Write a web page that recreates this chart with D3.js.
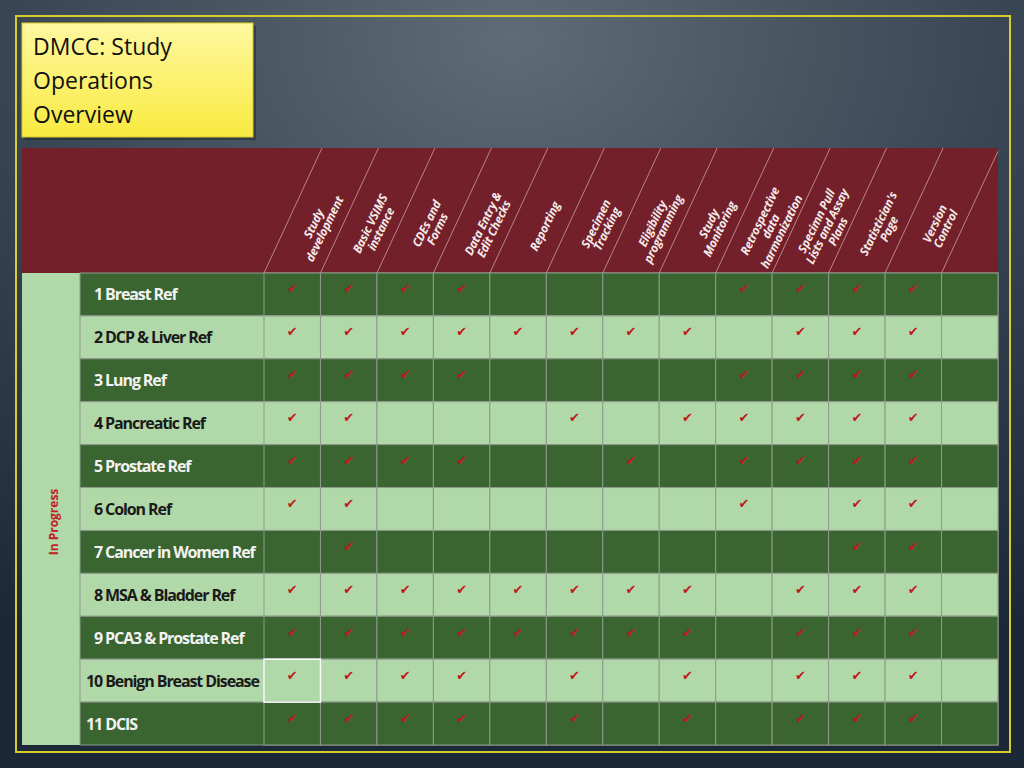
<!DOCTYPE html>
<html><head><meta charset="utf-8">
<script src="https://cdn.jsdelivr.net/npm/d3@7"></script>
<style>body{margin:0;overflow:hidden}</style>
</head><body>
<script>
const title = ["DMCC: Study", "Operations", "Overview"];
const groupLabel = "In Progress";
const tasks = [["Study","development"],["Basic VSIMS","instance"],["CDEs and","Forms"],["Data Entry &","Edit Checks"],["Reporting"],["Specimen","Tracking"],["Eligibility","programming"],["Study","Monitoring"],["Retrospective","data","harmonization"],["Specimn Pull","Lists and Assay","Plans"],["Statistician's","Page"],["Version","Control"],[]];
const studies = ["1 Breast Ref","2 DCP & Liver Ref","3 Lung Ref","4 Pancreatic Ref","5 Prostate Ref","6 Colon Ref","7 Cancer in Women Ref","8 MSA & Bladder Ref","9 PCA3 & Prostate Ref","10 Benign Breast Disease","11 DCIS"];
const done = [
 [1,1,1,1,0,0,0,0,1,1,1,1,0],
 [1,1,1,1,1,1,1,1,0,1,1,1,0],
 [1,1,1,1,0,0,0,0,1,1,1,1,0],
 [1,1,0,0,0,1,0,1,1,1,1,1,0],
 [1,1,1,1,0,0,1,0,1,1,1,1,0],
 [1,1,0,0,0,0,0,0,1,0,1,1,0],
 [0,1,0,0,0,0,0,0,0,0,1,1,0],
 [1,1,1,1,1,1,1,1,0,1,1,1,0],
 [1,1,1,1,1,1,1,1,0,1,1,1,0],
 [1,1,1,1,0,1,0,1,0,1,1,1,0],
 [1,1,1,1,0,1,0,1,0,1,1,1,0]];

const W=1024,H=768;
const svg=d3.select("body").append("svg").attr("width",W).attr("height",H);
const defs=svg.append("defs");
const rg=defs.append("radialGradient").attr("id","bg").attr("cx","0.5").attr("cy","0.05").attr("r","0.9");
rg.append("stop").attr("offset","0").attr("stop-color","#5f6c76");
rg.append("stop").attr("offset","0.6").attr("stop-color","#34414f");
rg.append("stop").attr("offset","1").attr("stop-color","#1a2838");
svg.append("rect").attr("width",W).attr("height",H).attr("fill","url(#bg)");
svg.append("rect").attr("x",16).attr("y",16).attr("width",994).attr("height",736).attr("fill","none").attr("stroke","#d8cc2a").attr("stroke-width",2);

const x=d3.scaleBand().domain(d3.range(tasks.length)).range([264,998]);
const y=d3.scaleBand().domain(d3.range(studies.length)).range([273,745]);
const hTop=148;
svg.append("rect").attr("x",22).attr("y",hTop).attr("width",976).attr("height",273-hTop).attr("fill","#74202a");
const dx=58;
d3.range(tasks.length+1).forEach(i=>{
  const xb=264+i*x.step();
  svg.append("line").attr("x1",xb).attr("y1",273).attr("x2",Math.min(xb+dx,998)).attr("y2",xb+dx>998?273-(998-xb)*(273-hTop)/dx:hTop).attr("stroke","#c9a0a0").attr("stroke-width",0.8);
});
tasks.forEach((t,i)=>{
  const cx=x(i)+x.bandwidth()/2+dx/2-2, cy=hTop+(273-hTop)/2+16;
  const g=svg.append("g").attr("transform",`translate(${cx},${cy}) rotate(-64)`);
  t.forEach((s,k)=>g.append("text").attr("x",0).attr("y",(k-(t.length-1)/2)*12+4).attr("text-anchor","middle")
    .attr("font-family","Open Sans").attr("font-style","italic").attr("font-weight","bold").attr("font-size",12).attr("letter-spacing",-0.3).attr("fill","#f4eaea").text(s));
});
svg.append("rect").attr("x",22).attr("y",273).attr("width",58).attr("height",472).attr("fill","#b0d8a8");
svg.append("text").attr("transform","translate(58,522) rotate(-90)").attr("text-anchor","middle").attr("font-family","Open Sans").attr("font-weight","bold").attr("font-size",12).attr("fill","#c0202a").text(groupLabel);
studies.forEach((s,r)=>{
  const dark=r%2===0;
  const fill=dark?"#3b6530":"#b0d8a8";
  svg.append("rect").attr("x",80).attr("y",y(r)).attr("width",998-80).attr("height",y.bandwidth()).attr("fill",fill).attr("stroke","#8e9a8c").attr("stroke-width",1);
  svg.append("text").attr("x",r>=9?86:94).attr("y",y(r)+y.bandwidth()/2+6).attr("font-family","Open Sans").attr("font-weight","bold").attr("font-size",16)
    .attr("fill",dark?"#f2f2f2":"#1a1a1a").attr("letter-spacing",-1.1).text(s);
  tasks.forEach((t,c)=>{
    svg.append("rect").attr("x",x(c)).attr("y",y(r)).attr("width",x.bandwidth()).attr("height",y.bandwidth()).attr("fill",fill).attr("stroke","#8e9a8c").attr("stroke-width",1);
    if(done[r][c]) svg.append("text").attr("x",x(c)+x.bandwidth()/2).attr("y",y(r)+y.bandwidth()/2-1).attr("text-anchor","middle")
      .attr("font-family","DejaVu Sans").attr("font-size",13).attr("fill","#c01820").text("✔");
  });
});
svg.append("rect").attr("x",x(0)).attr("y",y(9)).attr("width",x.bandwidth()).attr("height",y.bandwidth()).attr("fill","none").attr("stroke","#ffffff").attr("stroke-width",1.5);
svg.append("rect").attr("x",25).attr("y",26).attr("width",231).attr("height",114).attr("fill","#101010").attr("opacity",0.35);
const yg=defs.append("linearGradient").attr("id","yg").attr("x1",0).attr("y1",0).attr("x2",0).attr("y2",1);
yg.append("stop").attr("offset",0).attr("stop-color","#fff8a0");
yg.append("stop").attr("offset",1).attr("stop-color","#f8ea40");
svg.append("rect").attr("x",22).attr("y",23).attr("width",231).attr("height",114).attr("fill","url(#yg)").attr("stroke","#d8cc2a");
title.forEach((t,i)=>svg.append("text").attr("x",33).attr("y",55+i*34).attr("font-family","Open Sans").attr("font-size",23).attr("fill","#111").text(t));
</script>
</body></html>
